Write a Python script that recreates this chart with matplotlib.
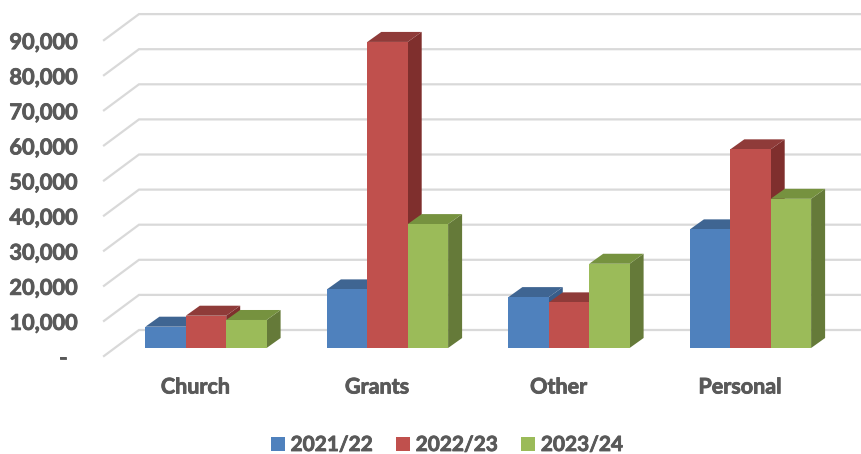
import matplotlib
matplotlib.use("Agg")
import matplotlib.pyplot as plt
import matplotlib.patheffects as pe
from matplotlib.patches import Polygon, Patch

categories = ["Church", "Grants", "Other", "Personal"]
series_names = ["2021/22", "2022/23", "2023/24"]
values_2122 = [6070, 16700, 14500, 33800]
values_2223 = [9200, 87200, 13000, 56600]
values_2324 = [7980, 35300, 24000, 42500]
y_ticks = [0, 10000, 20000, 30000, 40000, 50000, 60000, 70000, 80000, 90000]
y_tick_labels = ["-", "10,000", "20,000", "30,000", "40,000", "50,000",
                 "60,000", "70,000", "80,000", "90,000"]

front_colors = ["#4F81BD", "#C0504D", "#9BBB59"]
top_colors = ["#3F6592", "#8F3B39", "#76923F"]
side_colors = ["#385D8A", "#7F2F2D", "#657A39"]
GRID = "#D9D9D9"
TEXT = "#595959"
FONT = "Lato"
THICK = [pe.withStroke(linewidth=0.6, foreground=TEXT)]

W, H = 861, 454
PX_X = 181.5            # pixels per category
PX_Y = 35.1 / 10000     # pixels per value unit
X0, Y0 = 206.0, 348.0   # pixel of category 0 centre / zero on the bar front plane

fig = plt.figure(figsize=(W / 100, H / 100), dpi=100, facecolor="white")
ax = fig.add_axes([0, 0, 1, 1])
ax.set_xlim((0 - X0) / PX_X, (W - X0) / PX_X)
ax.set_ylim((Y0 - H) / PX_Y, Y0 / PX_Y)
ax.axis("off")

dx = lambda px: px / PX_X
dy = lambda px: px / PX_Y

# Gridlines: floor/wall bend, from front-left to back wall, then to the right edge
left_x = (104 - X0) / PX_X
back_x = (139 - X0) / PX_X
right_x = (W + 5 - X0) / PX_X
for v in y_ticks:
    ax.plot([left_x, back_x, right_x], [v - dy(8), v + dy(18), v + dy(18)],
            color=GRID, lw=1.6, solid_joinstyle="miter", zorder=1)

# Tick labels (the zero dash sits left of the right edge, as in accounting format)
for v, lab in zip(y_ticks, y_tick_labels):
    px_right = 77 if v else 67
    ax.text((px_right - X0) / PX_X, v - dy(10.5) if v else v - dy(10), lab, ha="right", va="center",
            fontsize=15.7, fontweight="bold", family=FONT, color=TEXT, path_effects=THICK)

# 3D-look bars
bar_w = 40.4 / PX_X
ddx, ddy = dx(14), dy(10)
all_series = [values_2122, values_2223, values_2324]
z = 3
for c in range(len(categories)):
    for s, vals in enumerate(all_series):
        v = vals[c]
        l = c + (s - 1.5) * bar_w
        r = l + bar_w
        ax.add_patch(Polygon([(r, 0), (r + ddx, ddy), (r + ddx, v + ddy), (r, v)],
                             fc=side_colors[s], ec="none", zorder=z))
        ax.add_patch(Polygon([(l, v), (r, v), (r + ddx, v + ddy), (l + ddx, v + ddy)],
                             fc=top_colors[s], ec="none", zorder=z))
        ax.bar(l, v, width=bar_w, align="edge", color=front_colors[s],
               edgecolor="none", zorder=z + 0.5)
        z += 1
    ax.text(c - 10.5 / PX_X, -dy(39), categories[c], ha="center", va="center",
            fontsize=15.5, fontweight="bold", family=FONT, color=TEXT, path_effects=THICK)

handles = [Patch(fc=col, ec="none", label=n) for col, n in zip(front_colors, series_names)]
leg = ax.legend(handles=handles, ncol=3, loc="center", bbox_to_anchor=(447 / W, 1 - 445 / H),
                frameon=False, handlelength=0.67, handleheight=0.67, handletextpad=0.28,
                columnspacing=1.1, borderpad=0, labelcolor=TEXT,
                prop={"family": FONT, "weight": "bold", "size": 15})
for t in leg.get_texts():
    t.set_path_effects(THICK)

fig.savefig("out.png", dpi=100)
